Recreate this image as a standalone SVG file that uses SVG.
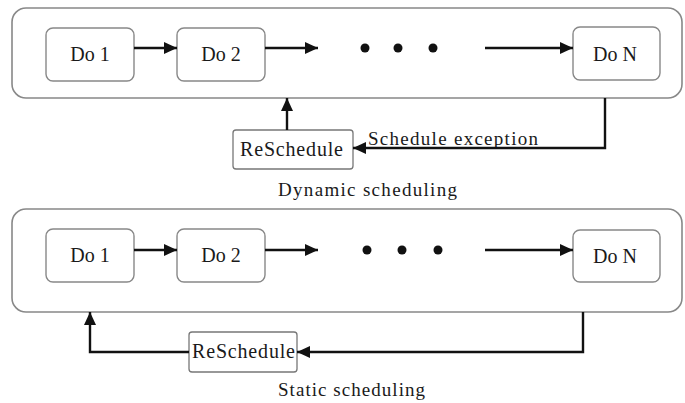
<svg xmlns="http://www.w3.org/2000/svg" width="685" height="403" viewBox="0 0 685 403">
<defs>
<style>
.outer{fill:#fff;stroke:#888;stroke-width:1.6}
.box{fill:#fff;stroke:#888;stroke-width:1.4}
.rbox{fill:#fff;stroke:#777;stroke-width:1.3}
.edge{fill:none;stroke:#111;stroke-width:2.4}
.t{font-family:"Liberation Serif","Times New Roman",serif;font-size:20px;fill:#1a1a1a}
.l{font-family:"Liberation Serif","Times New Roman",serif;font-size:19px;fill:#1a1a1a}
.dot{fill:#111}
</style>
<marker id="ah" markerUnits="userSpaceOnUse" markerWidth="14" markerHeight="14" viewBox="0 0 14 14" refX="13" refY="7" orient="auto">
<path d="M0,1 L13,7 L0,13 Z" fill="#111"/>
</marker>
</defs>
<rect width="685" height="403" fill="#fff"/>
<g id="dynamic">
<rect id="dyn-frame" class="outer" x="12" y="8" width="670" height="90" rx="14"/>
<g id="dyn-do1"><rect class="box" x="46" y="28" width="88" height="53" rx="7"/><text class="t" x="90" y="61" text-anchor="middle">Do 1</text></g>
<g id="dyn-do2"><rect class="box" x="177" y="28" width="88" height="53" rx="7"/><text class="t" x="221" y="61" text-anchor="middle">Do 2</text></g>
<g id="dyn-don"><rect class="box" x="573" y="27" width="87" height="53" rx="7"/><text class="t" x="615" y="61" text-anchor="middle">Do N</text></g>
<g id="dyn-dots"><circle class="dot" cx="365" cy="48" r="4.5"/><circle class="dot" cx="398" cy="48" r="4.5"/><circle class="dot" cx="433" cy="48" r="4.5"/></g>
<g id="dyn-reschedule"><rect class="rbox" x="233" y="130" width="120" height="39" rx="3"/><text class="t" x="240" y="156" textLength="103" lengthAdjust="spacing">ReSchedule</text></g>
<text class="l" x="368" y="145" textLength="170" lengthAdjust="spacing">Schedule exception</text>
<text class="l" x="278" y="196" textLength="179" lengthAdjust="spacing">Dynamic scheduling</text>
</g>
<g id="static">
<rect id="sta-frame" class="outer" x="12" y="209" width="670" height="103" rx="14"/>
<g id="sta-do1"><rect class="box" x="46" y="229" width="88" height="53" rx="7"/><text class="t" x="90" y="262" text-anchor="middle">Do 1</text></g>
<g id="sta-do2"><rect class="box" x="177" y="229" width="88" height="53" rx="7"/><text class="t" x="221" y="262" text-anchor="middle">Do 2</text></g>
<g id="sta-don"><rect class="box" x="573" y="230" width="87" height="52" rx="7"/><text class="t" x="615" y="263" text-anchor="middle">Do N</text></g>
<g id="sta-dots"><circle class="dot" cx="367" cy="250" r="4.5"/><circle class="dot" cx="402" cy="250" r="4.5"/><circle class="dot" cx="438" cy="250" r="4.5"/></g>
<g id="sta-reschedule"><rect class="rbox" x="189" y="332" width="108" height="40" rx="3"/><text class="t" x="192" y="358" textLength="103" lengthAdjust="spacing">ReSchedule</text></g>
<text class="l" x="278" y="396" textLength="147" lengthAdjust="spacing">Static scheduling</text>
</g>
<g id="connectors">
<path class="edge" d="M134,48 H177" marker-end="url(#ah)"/>
<path class="edge" d="M265,48 H318" marker-end="url(#ah)"/>
<path class="edge" d="M485,48 H573" marker-end="url(#ah)"/>
<path class="edge" d="M287,130 V98" marker-end="url(#ah)"/>
<path class="edge" d="M605,98 V148 H353" marker-end="url(#ah)"/>
<path class="edge" d="M134,250 H177" marker-end="url(#ah)"/>
<path class="edge" d="M265,250 H318" marker-end="url(#ah)"/>
<path class="edge" d="M485,250 H573" marker-end="url(#ah)"/>
<path class="edge" d="M583,312 V352 H297" marker-end="url(#ah)"/>
<path class="edge" d="M189,352 H90 V312" marker-end="url(#ah)"/>
</g>
</svg>
